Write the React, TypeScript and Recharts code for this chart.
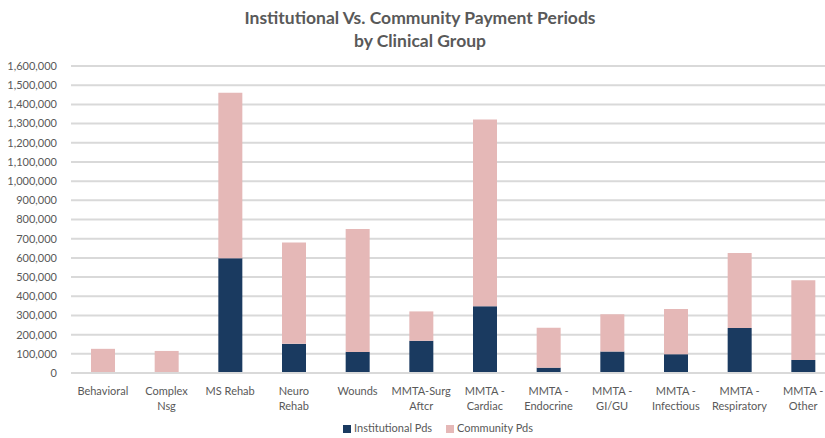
import React from "react";
import { BarChart, Bar, XAxis, YAxis, CartesianGrid, Legend } from "recharts";

const categories = [
  "Behavioral",
  "Complex Nsg",
  "MS Rehab",
  "Neuro Rehab",
  "Wounds",
  "MMTA-Surg Aftcr",
  "MMTA - Cardiac",
  "MMTA - Endocrine",
  "MMTA - GI/GU",
  "MMTA - Infectious",
  "MMTA - Respiratory",
  "MMTA - Other",
];

// wrapped x labels, as in the picture
const tickLines = [
  ["Behavioral"],
  ["Complex", "Nsg"],
  ["MS Rehab"],
  ["Neuro", "Rehab"],
  ["Wounds"],
  ["MMTA-Surg", "Aftcr"],
  ["MMTA -", "Cardiac"],
  ["MMTA -", "Endocrine"],
  ["MMTA -", "GI/GU"],
  ["MMTA -", "Infectious"],
  ["MMTA -", "Respiratory"],
  ["MMTA -", "Other"],
];

const institutional = [0, 0, 598000, 152000, 110000, 168000, 348000, 28000, 112000, 98000, 235000, 68000];
const community = [126000, 115000, 862000, 528000, 640000, 153000, 973000, 208000, 194000, 235000, 390000, 416000];

const yTicks = [
  0, 100000, 200000, 300000, 400000, 500000, 600000, 700000, 800000,
  900000, 1000000, 1100000, 1200000, 1300000, 1400000, 1500000, 1600000,
];

const data = categories.map((name, i) => ({
  name,
  institutional: institutional[i],
  community: community[i],
}));

const FONT = "Lato, 'Open Sans', sans-serif";
const GREY = "#595959";

const XTick = (props: any) => {
  const { x, y, index } = props;
  const lines = tickLines[index] || [props.payload.value];
  return (
    <text x={x} y={y} textAnchor="middle" fill={GREY} fontSize={11} fontFamily={FONT}>
      {lines.map((l: string, k: number) => (
        <tspan key={k} x={x} dy={k === 0 ? 14 : 15}>
          {l}
        </tspan>
      ))}
    </text>
  );
};

const LegendBox = () => (
  <div
    style={{
      display: "flex",
      justifyContent: "center",
      gap: 14,
      fontFamily: FONT,
      fontSize: 11,
      color: GREY,
    }}
  >
    <span style={{ display: "flex", alignItems: "center" }}>
      <span style={{ width: 8, height: 8, background: "#1a3a60", marginRight: 3, marginTop: 3 }} />
      Institutional Pds
    </span>
    <span style={{ display: "flex", alignItems: "center" }}>
      <span style={{ width: 8, height: 8, background: "#e5b8b7", marginRight: 3, marginTop: 3 }} />
      Community Pds
    </span>
  </div>
);

export default function App() {
  return (
    <div
      style={{
        position: "absolute",
        left: 0,
        top: 0,
        width: 825,
        height: 438,
        overflow: "hidden",
        background: "#fff",
      }}
    >
      <div
        style={{
          position: "absolute",
          top: 6,
          left: 0,
          width: 840,
          textAlign: "center",
          fontFamily: FONT,
          fontWeight: 700,
          fontSize: 17.5,
          lineHeight: "23px",
          color: GREY,
        }}
      >
        Institutional Vs. Community Payment Periods
        <br />
        by Clinical Group
      </div>
      <BarChart
        width={840}
        height={438}
        data={data}
        margin={{ top: 66, right: 5, bottom: 25, left: 0 }}
        barSize={24}
      >
        <CartesianGrid vertical={false} stroke="#d9d9d9" strokeWidth={2} />
        <XAxis
          dataKey="name"
          interval={0}
          height={40}
          axisLine={{ stroke: "#d9d9d9", strokeWidth: 2 }}
          tickLine={false}
          tick={<XTick />}
        />
        <YAxis
          width={71}
          domain={[0, 1600000]}
          ticks={yTicks}
          interval={0}
          axisLine={false}
          tickLine={false}
          tickMargin={8}
          tickFormatter={(v: number) => v.toLocaleString("en-US")}
          tick={{ fill: GREY, fontSize: 11, fontFamily: FONT }}
        />
        <Legend
          verticalAlign="middle"
          align="center"
          content={<LegendBox />}
          wrapperStyle={{ top: 421, left: 18, width: 840 }}
        />
        <Bar dataKey="institutional" name="Institutional Pds" stackId="a" fill="#1a3a60" isAnimationActive={false} />
        <Bar dataKey="community" name="Community Pds" stackId="a" fill="#e5b8b7" isAnimationActive={false} />
      </BarChart>
    </div>
  );
}
